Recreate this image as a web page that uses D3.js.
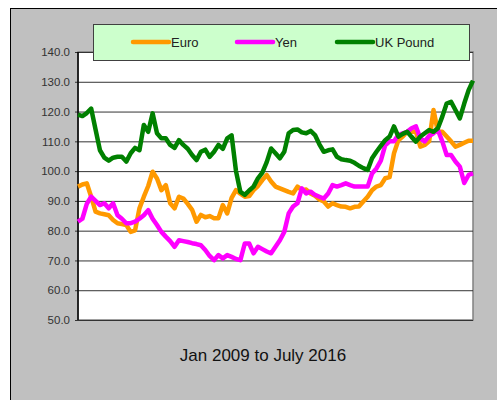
<!DOCTYPE html>
<html>
<head>
<meta charset="utf-8">
<script src="https://cdn.jsdelivr.net/npm/d3@7"></script>
<style>
  body { margin: 0; background: #fff; }
  svg { display: block; font-family: "Liberation Sans", Arial, sans-serif; }
</style>
</head>
<body>
<div id="chart"></div>
<script>
// monthly index values, Jan 2009 .. Jul 2016
var euro = [94.8, 95.5, 95.9, 91.4, 86.4, 85.8, 85.5, 85.2, 83.6, 82.5, 82.2, 81.9, 79.6, 80.1, 87.5, 91.4,
    95, 99.8, 97.5, 93.6, 95.3, 89.2, 87.5, 91.4, 90.8, 89, 87, 83, 85.3, 84.5, 84.9, 84.2, 84.2, 88.6, 85.8,
    91, 93.6, 92.4, 91.4, 91.6, 93.6, 95, 97, 98.7, 96.5, 94.8, 94.2, 93.6, 93, 92.5, 94.8, 93.6, 93.8, 92.5,
    91.7, 90.5, 89.8, 88.1, 89.2, 88.6, 88.1, 88, 87.5, 88, 88.1, 89.8, 91.4, 93.6, 94.8, 95.3, 97.6, 98,
    106, 110.4, 111.6, 113.2, 113.2, 113.2, 108.2, 108.8, 110, 120.5, 113.2, 113.2, 111.6, 110, 108.2, 108.8,
    109.5, 110.2, 110.2];
var yen = [83, 84, 89, 91.4, 90, 88.6, 89.2, 87.5, 89.2, 85.2, 84, 82.5, 82.5, 83, 84, 85.2, 86.9, 84, 81.9,
    79.6, 78, 76.5, 74.6, 76.8, 76.5, 76.2, 75.8, 75.5, 75.1, 73.5, 71.5, 70.1, 71.8, 70.7, 71.8, 71.2, 70.5,
    70.1, 75.7, 75.7, 72.4, 74.6, 73.8, 73, 72.4, 74.6, 76.8, 79.6, 85.8, 88.1, 89.2, 94.2, 92.5, 93.1, 92,
    91.4, 90.8, 92.5, 95.3, 94.8, 95.3, 95.9, 95.3, 94.8, 94.8, 94.8, 94.8, 99.2, 100.9, 103.5, 108.7, 110,
    110, 112.2, 112.7, 113.2, 114.4, 115, 111, 110, 111.8, 112.7, 113.8, 110, 105.4, 105.4, 103.2, 101.5, 96,
    98.7, 99.2];
var pound = [119, 118.5, 119.5, 121, 114, 107, 104.5, 103.5, 104.5, 104.8, 104.8, 103.2, 106, 107.8, 107,
    115.5, 113.2, 119.4, 112.7, 111, 111, 108.8, 107.8, 110.4, 108.8, 107.5, 105.4, 103.7, 106.5, 107.2,
    104.8, 106.5, 108.8, 107.5, 111, 112, 100, 93, 92, 93.5, 94.8, 97.6, 99.5, 103, 107.6, 106, 104.3, 106.5,
    112.7, 113.8, 114, 113, 112.7, 113.5, 112.1, 109, 106.5, 107, 107.3, 104.8, 104, 103.7, 103.5, 102.8,
    101.8, 101, 100.4, 104.3, 106.5, 108.5, 110.4, 111.6, 115, 111.6, 112.5, 113.2, 111.5, 109.9, 111.6,
    112.7, 113.8, 113.2, 114.4, 118.3, 122.7, 123.3, 120.5, 117.7, 122.7, 127.2, 130.4];

var seriesNames = ["Euro", "Yen", "UK Pound"];
var seriesColors = ["#ff9900", "#ff00ff", "#008000"];
var yTicks = [50, 60, 70, 80, 90, 100, 110, 120, 130, 140];
var xLabel = "Jan 2009 to July 2016";

var w = 497, h = 400;
var plot = { left: 78, top: 52, right: 473, bottom: 320 };

var svg = d3.select("#chart").append("svg")
    .attr("width", w)
    .attr("height", h);

// chart area background
svg.append("rect")
    .attr("x", 10.5).attr("y", 8.5)
    .attr("width", w).attr("height", h)
    .attr("fill", "#c0c0c0")
    .attr("stroke", "#000")
    .attr("stroke-width", 1);

var x = d3.scaleLinear().domain([0, euro.length - 1]).range([plot.left, plot.right]);
var y = d3.scaleLinear().domain([50, 140]).range([plot.bottom, plot.top]);

// plot area
svg.append("rect")
    .attr("x", plot.left).attr("y", plot.top)
    .attr("width", plot.right - plot.left).attr("height", plot.bottom - plot.top)
    .attr("fill", "#fff")
    .attr("stroke", "#808080")
    .attr("stroke-width", 1.5);

// gridlines + y axis
var yAxis = d3.axisLeft(y)
    .tickValues(yTicks)
    .tickSize(-(plot.right - plot.left))
    .tickPadding(8)
    .tickFormat(d3.format(".1f"));

var gy = svg.append("g")
    .attr("transform", "translate(" + plot.left + ",0)")
    .call(yAxis);
gy.select(".domain").remove();
gy.selectAll(".tick line")
    .attr("stroke", "#333")
    .attr("x1", -3);
gy.selectAll(".tick text")
    .attr("fill", "#333")
    .attr("font-size", "11.5px")
    .attr("font-family", "Liberation Sans, Arial, sans-serif");

svg.append("line")
    .attr("x1", plot.left).attr("x2", plot.left)
    .attr("y1", plot.top).attr("y2", plot.bottom)
    .attr("stroke", "#000").attr("stroke-width", 1.5);

// lines
var line = d3.line()
    .x(function (d, i) { return x(i); })
    .y(function (d) { return y(d); });

var data = [euro, yen, pound];
svg.append("g").selectAll("path")
    .data(data)
    .enter().append("path")
    .attr("d", line)
    .attr("fill", "none")
    .attr("stroke", function (d, i) { return seriesColors[i]; })
    .attr("stroke-width", 4.5)
    .attr("stroke-linejoin", "round");

// legend
var legend = svg.append("g");
legend.append("rect")
    .attr("x", 93.5).attr("y", 24.5)
    .attr("width", 376).attr("height", 36)
    .attr("fill", "#ccffcc")
    .attr("stroke", "#404040")
    .attr("stroke-width", 1);

var legendX = [133, 237, 337];
var items = legend.selectAll("g.item")
    .data(seriesNames)
    .enter().append("g")
    .attr("class", "item")
    .attr("transform", function (d, i) { return "translate(" + legendX[i] + ",42)"; });
items.append("line")
    .attr("x1", 0).attr("x2", 36)
    .attr("stroke", function (d, i) { return seriesColors[i]; })
    .attr("stroke-width", 4.5)
    .attr("stroke-linecap", "round");
items.append("text")
    .attr("x", 38)
    .attr("y", 5)
    .attr("font-size", "13px")
    .attr("fill", "#222")
    .text(function (d) { return d; });

// x caption
svg.append("text")
    .attr("x", 263)
    .attr("y", 361)
    .attr("text-anchor", "middle")
    .attr("font-size", "17px")
    .attr("fill", "#111")
    .text(xLabel);
</script>
</body>
</html>
